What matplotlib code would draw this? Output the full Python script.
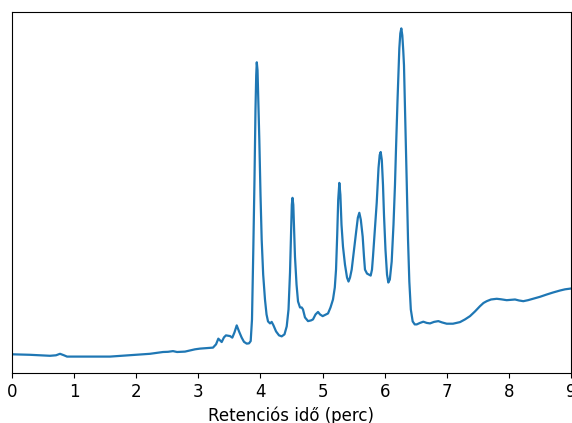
import numpy as np
import matplotlib
matplotlib.use("Agg")
import matplotlib.pyplot as plt

# retenciós idő (perc) és jelintenzitás (tetszőleges egység)
rt = [
    0.000, 0.290, 0.612, 0.708, 0.773, 0.837, 0.886, 1.175, 1.578, 1.948,
    2.222, 2.431, 2.512, 2.592, 2.657, 2.785, 2.946, 3.027, 3.236, 3.285,
    3.322, 3.376, 3.413, 3.445, 3.510, 3.547, 3.582, 3.618, 3.655, 3.698,
    3.735, 3.779, 3.816, 3.843, 3.864, 3.885, 3.904, 3.920, 3.932, 3.941,
    3.953, 3.966, 3.982, 4.001, 4.020, 4.044, 4.073, 4.098, 4.122, 4.154,
    4.181, 4.210, 4.251, 4.299, 4.342, 4.387, 4.423, 4.452, 4.476, 4.492,
    4.505, 4.516, 4.529, 4.544, 4.556, 4.581, 4.605, 4.637, 4.664, 4.685,
    4.717, 4.766, 4.814, 4.846, 4.887, 4.927, 4.959, 5.002, 5.039, 5.088,
    5.128, 5.168, 5.197, 5.217, 5.236, 5.252, 5.270, 5.287, 5.305, 5.329,
    5.361, 5.394, 5.418, 5.442, 5.469, 5.506, 5.539, 5.568, 5.592, 5.616,
    5.646, 5.667, 5.683, 5.716, 5.775, 5.796, 5.812, 5.836, 5.872, 5.901,
    5.920, 5.936, 5.954, 5.973, 5.989, 6.013, 6.038, 6.059, 6.083, 6.113,
    6.142, 6.166, 6.183, 6.207, 6.236, 6.252, 6.268, 6.284, 6.299, 6.311,
    6.332, 6.355, 6.376, 6.397, 6.421, 6.451, 6.484, 6.516, 6.569, 6.622,
    6.677, 6.730, 6.794, 6.864, 6.923, 6.999, 7.100, 7.213, 7.293, 7.374,
    7.454, 7.535, 7.591, 7.643, 7.712, 7.804, 7.873, 7.965, 8.034, 8.099,
    8.163, 8.232, 8.308, 8.388, 8.501, 8.609, 8.710, 8.823, 8.904, 9.000,
]
signal = [
    2.3, 1.8, 0.8, 1.3, 2.8, 1.3, 0.0, 0.0, 0.0, 1.6,
    2.8, 4.6, 4.8, 5.5, 4.6, 5.0, 7.3, 8.0, 9.0, 12.3,
    18.0, 14.6, 19.3, 21.3, 20.6, 19.0, 24.3, 31.3, 25.3, 19.0,
    14.8, 13.0, 13.3, 15.6, 37.3, 107.3, 177.3, 247.3, 282.3, 295.3,
    287.3, 257.3, 217.3, 162.3, 117.3, 82.3, 57.3, 42.3, 35.3, 33.3,
    34.8, 31.3, 25.3, 21.3, 20.3, 22.3, 30.3, 47.3, 84.3, 122.3,
    152.3, 159.3, 152.3, 122.3, 100.3, 72.3, 55.3, 49.3, 49.3, 47.3,
    39.3, 35.6, 36.3, 37.3, 42.3, 44.8, 42.3, 40.6, 41.8, 43.3,
    49.3, 57.3, 69.3, 87.3, 122.3, 157.3, 174.3, 162.3, 132.3, 110.3,
    92.3, 79.3, 75.3, 79.3, 87.3, 107.3, 124.3, 139.3, 144.3, 137.3,
    120.3, 100.3, 87.3, 83.3, 81.3, 87.3, 100.3, 122.3, 154.3, 189.3,
    202.3, 205.3, 197.3, 172.3, 142.3, 107.3, 82.3, 74.3, 77.3, 95.3,
    132.3, 172.3, 209.3, 257.3, 309.3, 324.3, 329.3, 322.3, 307.3, 292.3,
    237.3, 175.3, 117.3, 75.3, 47.3, 35.3, 32.3, 32.3, 33.8, 35.0,
    33.8, 33.3, 34.8, 35.6, 34.3, 33.0, 33.0, 34.6, 37.3, 40.6,
    45.3, 50.6, 53.8, 55.6, 57.3, 58.0, 57.5, 56.6, 57.0, 57.3,
    56.3, 55.6, 56.6, 58.0, 60.0, 62.3, 64.3, 66.3, 67.5, 68.3,
]

fig = plt.figure(figsize=(5.72, 4.23), dpi=100)
ax = fig.add_axes([12 / 572, 50 / 423, 559 / 572, 361 / 423])

ax.plot(rt, signal, color="tab:blue", linewidth=1.6)

ax.set_xlim(0, 9)
ax.set_yticks([])
ax.tick_params(axis="x", labelsize=12)
ax.set_xlabel("Retenciós idő (perc)", fontsize=12)

fig.savefig("out.png", dpi=100)
